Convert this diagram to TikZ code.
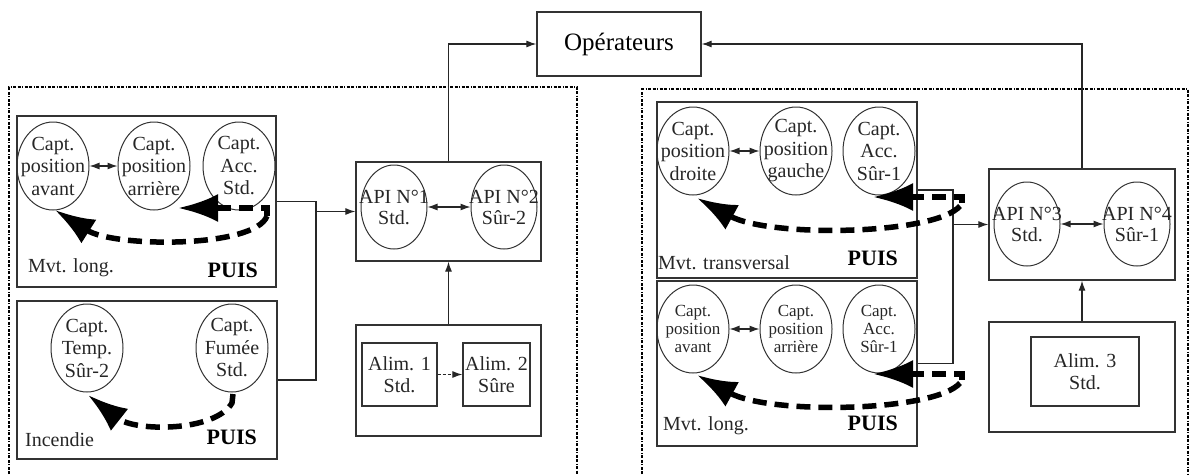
\documentclass[tikz,border=0pt]{standalone}
\usepackage{fontspec}
\setmainfont{Liberation Serif}
\usetikzlibrary{shapes.geometric,arrows.meta}

\begin{document}
\begin{tikzpicture}[x=1pt, y=-1pt, >={Latex[length=10pt,width=7pt]},
  box/.style={draw=black!80, line width=1.3pt, inner sep=0pt},
  frame/.style={line width=1.2pt, dash pattern=on 3pt off 1.5pt on 3pt off 1.5pt on 1pt off 1.5pt},
  oval/.style={ellipse, draw=black!80, line width=1pt, inner sep=0pt, minimum width=72pt, minimum height=88pt},
  ctext/.style={align=center, inner sep=0pt, text=black!85, font=\fontsize{20pt}{22.5pt}\selectfont},
  capt/.style={oval, label={[ctext]center:{#1}}},
  capts/.style={oval, label={[ctext, font=\fontsize{17pt}{18pt}\selectfont]center:{#1}}},
  api/.style={oval, minimum width=66pt, minimum height=84pt, label={[ctext, font=\fontsize{20pt}{21pt}\selectfont]center:{#1}}},
  alim/.style={box, align=center, text=black!85, font=\fontsize{20pt}{21.5pt}\selectfont},
  lbl/.style={inner sep=0pt, text=black!85, font=\fontsize{20pt}{22pt}\selectfont},
  puis/.style={inner sep=0pt, font=\fontsize{22pt}{24pt}\selectfont\bfseries},
  big/.style={-{Latex[length=40pt,width=28pt]}, line width=5.5pt, dash pattern=on 14pt off 8pt},
  link/.style={line width=1.1pt, draw=black!85}]

\useasboundingbox (0,0) rectangle (1198,474) ;

\draw[frame] (9,474) -- (9,87) -- (577,87) -- (577,474) ;
\draw[frame] (642,474) -- (642,89) -- (1188,89) -- (1188,474) ;

\node[box, minimum width=164pt, minimum height=64pt, font=\fontsize{25pt}{27pt}\selectfont] (op) at (619,44) {Opérateurs} ;

\node[box, minimum width=259pt, minimum height=171pt] (ul) at (146.5,201.5) {} ;
\node[capt={Capt.\\position\\avant}] (pav1) at (53,166) {} ;
\node[capt={Capt.\\position\\arrière}] (par1) at (154,166) {} ;
\node[capt={Capt.\\Acc.\\Std.}] (acc1) at (239,166) {} ;
\node[lbl, anchor=west] (mvl1) at (28,268) {Mvt. long.} ;
\node[puis, anchor=east] (puis1) at (258,270) {PUIS} ;

\node[box, minimum width=260pt, minimum height=158pt] (ll) at (147,380) {} ;
\node[capt={Capt.\\Temp.\\Sûr-2}] (tmp) at (87,348) {} ;
\node[capt={Capt.\\Fumée\\Std.}] (fum) at (232,348) {} ;
\node[lbl, anchor=west] (inc) at (25,440) {Incendie} ;
\node[puis, anchor=east] (puis2) at (257,437) {PUIS} ;

\node[box, minimum width=185pt, minimum height=99pt] (api12) at (448.5,211.5) {} ;
\node[api={API N°1\\Std.}] (api1) at (394,207) {} ;
\node[api={API N°2\\Sûr-2}] (api2) at (504,207) {} ;

\node[box, minimum width=185pt, minimum height=111pt] (alim12) at (448.5,380.5) {} ;
\node[alim, minimum width=75pt, minimum height=63pt] (alim1) at (399.5,374.5) {Alim. 1\\Std.} ;
\node[alim, minimum width=67pt, minimum height=63pt] (alim2) at (496.5,374.5) {Alim. 2\\Sûre} ;

\node[box, minimum width=260pt, minimum height=176pt] (ur) at (787,190) {} ;
\node[capt={Capt.\\position\\droite}] (pdr) at (693,151) {} ;
\node[capt={Capt.\\position\\gauche}] (pga) at (796,151) {} ;
\node[capt={Capt.\\Acc.\\Sûr-1}] (acc2) at (879,151) {} ;
\node[lbl, anchor=west] (mvt) at (658,263) {Mvt. transversal} ;
\node[puis, anchor=east] (puis3) at (898,258) {PUIS} ;

\node[box, minimum width=260pt, minimum height=165pt] (lr) at (787,363.5) {} ;
\node[capts={Capt.\\position\\avant}] (pav2) at (693,329) {} ;
\node[capts={Capt.\\position\\arrière}] (par2) at (796,329) {} ;
\node[capts={Capt.\\Acc.\\Sûr-1}] (acc3) at (879,329) {} ;
\node[lbl, anchor=west] (mvl2) at (663,426) {Mvt. long.} ;
\node[puis, anchor=east] (puis4) at (898,423) {PUIS} ;

\node[box, minimum width=186pt, minimum height=111pt] (api34) at (1082,224.5) {} ;
\node[api={API N°3\\Std.}] (api3) at (1027,224) {} ;
\node[api={API N°4\\Sûr-1}] (api4) at (1137,224) {} ;

\node[box, minimum width=186pt, minimum height=110pt] (alim34) at (1082,377) {} ;
\node[alim, minimum width=108pt, minimum height=69pt] (alim3) at (1085,371.5) {Alim. 3\\Std.} ;

\coordinate (busl) at (316,211.5) ;
\coordinate (busr) at (953,224.5) ;

\draw[link, <->] (pav1) -- (par1) ;
\draw[link, <->] (pdr) -- (pga) ;
\draw[link, <->] (pav2) -- (par2) ;
\draw[link, <->] (api1) -- (api2) ;
\draw[link, <->] (api3) -- (api4) ;
\draw[link] (ul.east) -| (busl) |- (ll.east) ;
\draw[link, ->] (busl) -- (api12.west) ;
\draw[link] (ur.east) -| (busr) |- (lr.east) ;
\draw[link, ->] (busr) -- (api34.west) ;
\draw[link, ->] (alim12) -- (api12) ;
\draw[link, ->] (alim34) -- (api34) ;
\draw[link, ->] (api12.north) |- (op.west) ;
\draw[link, ->] (api34.north) |- (op.east) ;
\draw[link, ->, densely dashed] (alim1) -- (alim2) ;

\coordinate (s1) at (267,216) ;
\coordinate (s2) at (233,394) ;
\coordinate (s3) at (962,203) ;
\coordinate (s4) at (962,380) ;
\draw[big] (s1) -- (267,208) -- (178,208) ;
\draw[big] (s1) .. controls (255,248) and (115,248) .. (55,210) ;
\draw[big] (s2) -- (232,403) .. controls (215,432) and (135,432) .. (88,395) ;
\draw[big] (s3) -- (962,197) -- (873,197) ;
\draw[big] (960,206) .. controls (935,235) and (770,238) .. (697,198) ;
\draw[big] (s4) -- (962,374) -- (873,374) ;
\draw[big] (960,383) .. controls (935,412) and (770,415) .. (697,375) ;
\end{tikzpicture}
\end{document}
